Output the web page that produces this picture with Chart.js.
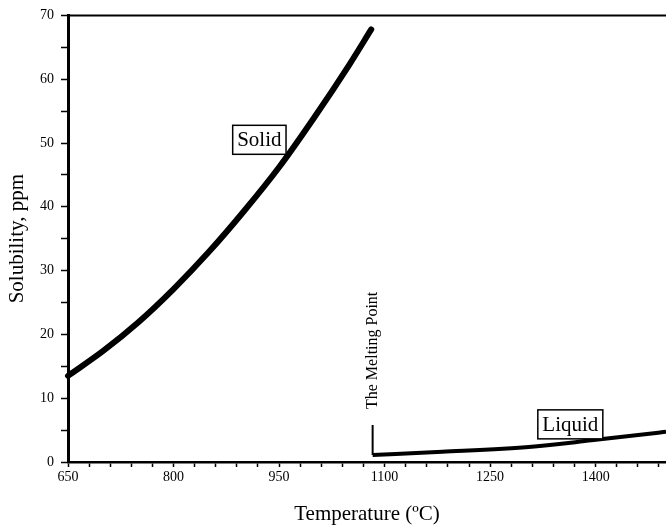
<!DOCTYPE html>
<html>
<head>
<meta charset="utf-8">
<script src="https://cdn.jsdelivr.net/npm/chart.js@4"></script>
<style>
  body { margin: 0; background: #fff; }
  canvas { display: block; }
</style>
</head>
<body>
<canvas id="c" width="666" height="529"></canvas>
<script>
// solubility
const solidTemp = [650, 700, 750, 800, 850, 900, 950, 1000, 1050, 1081];
const solidPpm = [13.5, 17.4, 21.9, 27.1, 32.9, 39.3, 46.2, 54.0, 62.3, 67.8];

const liquidTemp = [1083, 1182, 1309, 1394, 1489, 1500];
const liquidPpm = [1.1, 1.6, 2.4, 3.4, 4.6, 4.75];

const meltTemp = [1083, 1083];
const meltPpm = [1.1, 5.8];

const xTicks = [650, 680, 710, 740, 770, 800, 830, 860, 890, 920, 950, 980, 1010, 1040, 1070,
  1100, 1130, 1160, 1190, 1220, 1250, 1280, 1310, 1340, 1370, 1400, 1430, 1460, 1490];
const xLabels = [650, 800, 950, 1100, 1250, 1400];
const yTicks = [0, 5, 10, 15, 20, 25, 30, 35, 40, 45, 50, 55, 60, 65, 70];
const yLabels = [0, 10, 20, 30, 40, 50, 60, 70];

function pts(xs, ys) {
  return xs.map((x, i) => ({ x: x, y: ys[i] }));
}

const serif = "'Liberation Serif', 'DejaVu Serif', serif";

const notes = {
  id: 'notes',
  afterDraw(chart) {
    const ctx = chart.ctx;
    const xs = chart.scales.x, ys = chart.scales.y;
    const area = chart.chartArea;
    ctx.save();
    // top frame line
    ctx.strokeStyle = '#000';
    ctx.lineWidth = 2;
    ctx.beginPath();
    ctx.moveTo(area.left, area.top);
    ctx.lineTo(chart.width, area.top);
    ctx.stroke();

    function box(text, xv, yv, size) {
      const px = xs.getPixelForValue(xv), py = ys.getPixelForValue(yv);
      ctx.font = size + 'px ' + serif;
      const w = ctx.measureText(text).width + 9;
      const h = 29;
      ctx.fillStyle = '#fff';
      ctx.fillRect(px - w / 2, py - h / 2, w, h);
      ctx.lineWidth = 1.5;
      ctx.strokeRect(px - w / 2, py - h / 2, w, h);
      ctx.fillStyle = '#000';
      ctx.textAlign = 'center';
      ctx.textBaseline = 'middle';
      ctx.fillText(text, px, py + 1);
    }
    box('Solid', 922, 50.5, 21);
    box('Liquid', 1364, 5.9, 21);

    const mx = xs.getPixelForValue(1083), my = ys.getPixelForValue(17.5);
    ctx.translate(mx, my);
    ctx.rotate(-Math.PI / 2);
    ctx.font = '16px ' + serif;
    ctx.fillStyle = '#000';
    ctx.textAlign = 'center';
    ctx.textBaseline = 'middle';
    ctx.fillText('The Melting Point', 0, 0);
    ctx.restore();
  }
};

new Chart(document.getElementById('c'), {
  type: 'line',
  data: {
    datasets: [
      { data: pts(solidTemp, solidPpm), borderColor: '#000', borderWidth: 6, pointRadius: 0, cubicInterpolationMode: 'monotone', borderCapStyle: 'round' },
      { data: pts(liquidTemp, liquidPpm), borderColor: '#000', borderWidth: 4, pointRadius: 0, cubicInterpolationMode: 'monotone' },
      { data: pts(meltTemp, meltPpm), borderColor: '#000', borderWidth: 2, pointRadius: 0 }
    ]
  },
  options: {
    responsive: false,
    animation: false,
    clip: false,
    layout: { padding: { top: 14, right: 0, left: 0, bottom: 0 } },
    plugins: { legend: { display: false }, tooltip: { enabled: false } },
    scales: {
      x: {
        type: 'linear',
        min: 650,
        max: 1500,
        afterBuildTicks: s => { s.ticks = xTicks.map(v => ({ value: v })); },
        afterFit: s => { s.height = 67; },
        grid: { drawOnChartArea: false, tickLength: 5, color: '#000', tickWidth: 1.5 },
        border: { display: true, color: '#000', width: 2.5 },
        ticks: {
          color: '#000', padding: 2, maxRotation: 0, autoSkip: false,
          font: { family: serif, size: 14 },
          callback: v => xLabels.includes(v) ? String(v) : ''
        },
        title: { display: true, text: 'Temperature (ºC)', color: '#000', font: { family: serif, size: 21 }, padding: { top: 0, bottom: 2 } }
      },
      y: {
        min: 0,
        max: 70,
        afterBuildTicks: s => { s.ticks = yTicks.map(v => ({ value: v })); },
        afterFit: s => { s.width = 68; },
        grid: { drawOnChartArea: false, tickLength: 7, color: '#000', tickWidth: 1.5 },
        border: { display: true, color: '#000', width: 3 },
        ticks: {
          color: '#000', padding: 7, autoSkip: false,
          font: { family: serif, size: 14 },
          callback: v => yLabels.includes(v) ? String(v) : ''
        },
        title: { display: true, text: 'Solubility, ppm', color: '#000', font: { family: serif, size: 21 }, padding: { top: 5, bottom: 6 } }
      }
    }
  },
  plugins: [notes]
});
</script>
</body>
</html>
